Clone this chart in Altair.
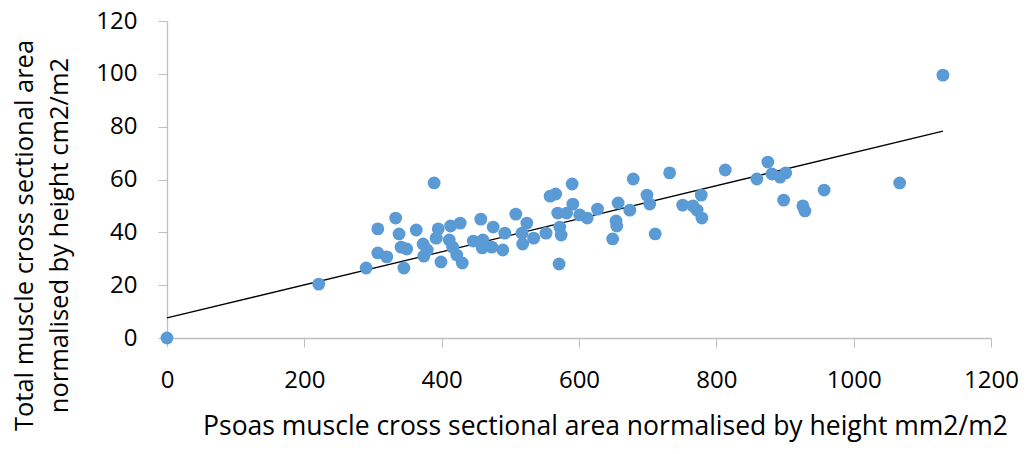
import altair as alt
import pandas as pd

psoas = [0, 221, 290, 307, 320, 307, 333, 338, 341, 349, 345, 363, 373, 379, 374,
         389, 395, 392, 399, 413, 411, 427, 416, 422, 430, 457, 446, 459, 460, 475,
         473, 489, 492, 508, 524, 517, 518, 534, 552, 558, 566, 590, 569, 572, 574,
         571, 591, 582, 601, 612, 627, 649, 654, 655, 657, 674, 679, 732, 699, 703,
         711, 751, 766, 772, 778, 779, 813, 859, 875, 881, 893, 901, 898, 926, 929,
         957, 1067, 1130]
total = [0, 20.4, 26.5, 32.2, 30.7, 41.3, 45.4, 39.4, 34.4, 33.7, 26.5, 40.9, 35.6, 33.3, 31.0,
         58.7, 41.3, 37.8, 28.8, 42.4, 37.1, 43.5, 34.4, 31.4, 28.4, 45.0, 36.7, 34.1, 37.1, 42.0,
         34.4, 33.3, 39.7, 46.9, 43.5, 39.7, 35.6, 37.8, 39.7, 53.7, 54.5, 58.3, 47.3, 42.0, 39.0,
         28.0, 50.7, 47.3, 46.6, 45.4, 48.8, 37.5, 44.3, 42.4, 51.1, 48.4, 60.2, 62.5, 54.1, 50.7,
         39.4, 50.3, 50.0, 48.4, 54.1, 45.4, 63.6, 60.2, 66.6, 62.1, 60.9, 62.5, 52.2, 50.0, 48.1,
         56.0, 58.7, 99.5]

trend_x = [0, 1130]
trend_y = [7.6, 78.3]

x_ticks = [0, 200, 400, 600, 800, 1000, 1200]
y_ticks = [0, 20, 40, 60, 80, 100, 120]

FONT = "Open Sans"

pts = pd.DataFrame({"x": psoas, "y": total})
trend = pd.DataFrame({"x": trend_x, "y": trend_y})

xscale = alt.Scale(domain=[0, 1200], nice=False, zero=True)
yscale = alt.Scale(domain=[0, 120], nice=False, zero=True)

xaxis = alt.Axis(
    values=x_ticks, format="d", grid=False, domainColor="#BFBFBF", tickColor="#BFBFBF",
    tickSize=9, labelFontSize=24, labelFont=FONT, labelColor="#000000",
    labelPadding=21, title="Psoas muscle cross sectional area normalised by height mm2/m2",
    titleFont=FONT, titleFontSize=26.5, titleFontWeight="normal", titleColor="#000000",
    titleX=438, titleY=96, titleBaseline="alphabetic",
    domainWidth=1.3, labelFlush=False,
)
yaxis = alt.Axis(
    values=y_ticks, format="d", grid=False, domainColor="#BFBFBF", tickColor="#BFBFBF",
    tickSize=9, labelFontSize=24, labelFont=FONT, labelColor="#000000",
    labelPadding=21, title=["Total muscle cross sectional area", "normalised by height cm2/m2"],
    titleFont=FONT, titleFontSize=25.5, titleFontWeight="normal", titleColor="#000000",
    titleY=214, titleX=-130, titleBaseline="bottom", titleLineHeight=35,
    domainWidth=1.3, labelFlush=False,
)

points = alt.Chart(pts).mark_circle(size=165, color="#5B9BD5", opacity=1).encode(
    x=alt.X("x:Q", scale=xscale, axis=xaxis),
    y=alt.Y("y:Q", scale=yscale, axis=yaxis),
)

line = alt.Chart(trend).mark_line(color="#000000", strokeWidth=1.3).encode(
    x=alt.X("x:Q", scale=xscale),
    y=alt.Y("y:Q", scale=yscale),
)

chart = alt.layer(line, points).properties(
    width=824, height=317,
    autosize=alt.AutoSizeParams(type="none"),
    padding={"left": 159, "top": 13, "right": 37, "bottom": 108},
).configure_view(stroke=None)

chart.save("out.html", embed_options={"renderer": "svg", "actions": False})
